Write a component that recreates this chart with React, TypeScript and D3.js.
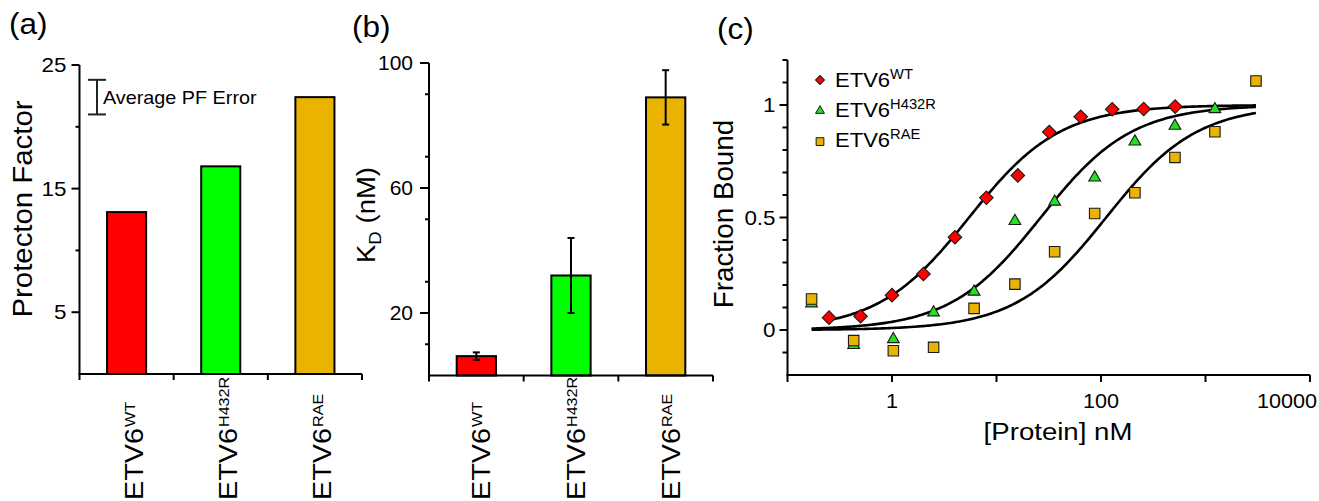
import React from "react";
import * as d3 from "d3";

const W = 1319;
const H = 501;
const FONT = "'Liberation Sans', Arial, Helvetica, sans-serif";

// ---------- Panel (a) ----------
const categories = ["WT", "H432R", "RAE"];
const barColors = ["#FF0000", "#00FF00", "#EAB300"];
const protectionFactor = [13.1, 16.8, 22.4];
const pfTicksMajor = [5, 15, 25];
const pfTicksMinor = [10, 20];
const avgPFErrorCenter = 22.4;
const avgPFError = 1.4;

// ---------- Panel (b) ----------
const kdValues = [6.2, 32, 89];
const kdErrors = [1.2, 12, 8.7];
const kdTicksMajor = [20, 60, 100];
const kdTicksMinor = [10, 30, 50, 70, 90];

// ---------- Panel (c) ----------
const concWT = [0.25, 0.5, 1, 2, 4, 8, 16, 32, 64, 128, 256, 512];
const boundWT = [0.055, 0.061, 0.155, 0.249, 0.412, 0.588, 0.687, 0.88, 0.948, 0.981, 0.982, 0.993];
const concMut = [0.17, 0.43, 1.03, 2.5, 6.1, 15, 36, 87, 211, 510, 1230, 3040];
const boundH432R = [0.118, -0.067, -0.041, 0.078, 0.17, 0.484, 0.57, 0.677, 0.837, 0.907, 0.981];
const boundRAE = [0.138, -0.047, -0.092, -0.077, 0.096, 0.204, 0.348, 0.518, 0.61, 0.767, 0.881, 1.107];
const fitKd = [5.46, 26.5, 112];
const fitStart = [0.25, 0.17, 0.17];
const fitEnd = 3040;
const logTicks = [0.1, 1, 10, 100, 1000, 10000];
const logTickLabels = ["", "1", "", "100", "", "10000"];
const fracTicksMajor = [0, 0.5, 1];
const fracTickLabels = ["0", "0.5", "1"];
const fracTicksMinor = [-0.1, 0.1, 0.2, 0.3, 0.4, 0.6, 0.7, 0.8, 0.9, 1.1, 1.2];
const markerColors = ["#FF0000", "#22E022", "#EAB300"];

type TP = {
  x: number;
  y: number;
  fs: number;
  rot?: number;
  sx?: number;
  anchor?: "start" | "middle" | "end";
  children: React.ReactNode;
};
function T({ x, y, fs, rot = 0, sx = 1, anchor = "start", children }: TP) {
  return (
    <text
      transform={`translate(${x},${y}) rotate(${rot}) scale(${sx},1)`}
      fontSize={fs}
      textAnchor={anchor}
      fontFamily={FONT}
      fill="#000"
    >
      {children}
    </text>
  );
}

function CatLabel({ x, sup }: { x: number; sup: string }) {
  return (
    <T x={x} y={500} fs={25} rot={-90} sx={1.15}>
      ETV6
      <tspan dy={-8} dx={1} fontSize={14}>
        {sup}
      </tspan>
    </T>
  );
}

export default function App() {
  const aX = d3.scaleBand<string>().domain(categories).range([79.5, 362]).padding(0);
  const aY = d3.scaleLinear().domain([0, 25]).range([374, 65]);
  const bX = d3.scaleBand<string>().domain(categories).range([429, 713]).padding(0);
  const bY = d3.scaleLinear().domain([0, 100]).range([375.5, 63]);
  const cX = d3.scaleLog().domain([0.1, 10000]).range([787.5, 1310]);
  const cY = d3.scaleLinear().domain([-0.2, 1.2]).range([375, 60]);

  const aBW = aX.bandwidth() * 0.415;
  const bBW = bX.bandwidth() * 0.415;

  const fitPath = (K: number, x0: number) => {
    const n = 240;
    const l0 = Math.log10(x0);
    const l1 = Math.log10(fitEnd);
    const pts: [number, number][] = d3.range(n + 1).map((i) => {
      const x = Math.pow(10, l0 + ((l1 - l0) * i) / n);
      return [cX(x), cY(x / (K + x))];
    });
    return d3.line()(pts) || "";
  };

  const diamond = d3.symbol(d3.symbolSquare, 92)() || "";
  const triangle = d3.symbol(d3.symbolTriangle, 60)() || "";
  const square = d3.symbol(d3.symbolSquare, 110)() || "";
  const lDiamond = d3.symbol(d3.symbolSquare, 40)() || "";
  const lTriangle = d3.symbol(d3.symbolTriangle, 34)() || "";
  const lSquare = d3.symbol(d3.symbolSquare, 60)() || "";

  const sw = 2;
  const mk = "#1a1a1a";

  const bars = (
    xs: d3.ScaleBand<string>,
    ys: d3.ScaleLinear<number, number>,
    vals: number[],
    bw: number
  ) =>
    categories.map((c, i) => (
      <rect
        key={c}
        x={(xs(c) as number) + xs.bandwidth() / 2 - bw / 2}
        y={ys(vals[i])}
        width={bw}
        height={ys(0) - ys(vals[i])}
        fill={barColors[i]}
        stroke="#000"
        strokeWidth={sw}
      />
    ));

  const legendItems = [
    { sym: lDiamond, rot: 45, sup: "WT" },
    { sym: lTriangle, rot: 0, sup: "H432R" },
    { sym: lSquare, rot: 0, sup: "RAE" },
  ];

  const aX0 = aX.range()[0];
  const bX0 = bX.range()[0];
  const cX0 = cX.range()[0];

  return (
    <svg
      width={W}
      height={H}
      style={{ position: "absolute", left: 0, top: 0, display: "block", background: "#fff" }}
    >
      <rect x={0} y={0} width={W} height={H} fill="#fff" />

      {/* ================= Panel (a) ================= */}
      <T x={9} y={34} fs={30} sx={1.05}>(a)</T>
      {bars(aX, aY, protectionFactor, aBW)}
      <line x1={aX0} x2={aX0} y1={aY(25)} y2={aY(0)} stroke="#000" strokeWidth={sw} />
      <line x1={aX0 - 1} x2={aX.range()[1]} y1={aY(0)} y2={aY(0)} stroke="#000" strokeWidth={sw} />
      {pfTicksMajor.map((t) => (
        <g key={t}>
          <line x1={aX0 - 8} x2={aX0} y1={aY(t)} y2={aY(t)} stroke="#000" strokeWidth={sw} />
          <T x={aX0 - 13} y={aY(t) + 7} fs={20} sx={1.12} anchor="end">
            {String(t)}
          </T>
        </g>
      ))}
      {pfTicksMinor.map((t) => (
        <line key={t} x1={aX0 - 4} x2={aX0} y1={aY(t)} y2={aY(t)} stroke="#000" strokeWidth={sw} />
      ))}
      {[...categories.map((c) => aX(c) as number), aX.range()[1]].map((x, i) => (
        <line key={i} x1={x} x2={x} y1={aY(0)} y2={aY(0) + 6} stroke="#000" strokeWidth={sw} />
      ))}
      <g stroke="#222" strokeWidth={sw}>
        <line x1={aX0 + 17.5} x2={aX0 + 17.5} y1={aY(avgPFErrorCenter + avgPFError)} y2={aY(avgPFErrorCenter - avgPFError)} />
        <line x1={aX0 + 8.5} x2={aX0 + 26.5} y1={aY(avgPFErrorCenter + avgPFError)} y2={aY(avgPFErrorCenter + avgPFError)} />
        <line x1={aX0 + 8.5} x2={aX0 + 26.5} y1={aY(avgPFErrorCenter - avgPFError)} y2={aY(avgPFErrorCenter - avgPFError)} />
      </g>
      <T x={aX0 + 23.5} y={aY(avgPFErrorCenter) + 6.5} fs={18} sx={1.1}>
        Average PF Error
      </T>
      <T x={32} y={209} fs={28} rot={-90} sx={1.05} anchor="middle">
        Protecton Factor
      </T>
      {categories.map((c) => (
        <CatLabel key={c} x={(aX(c) as number) + aX.bandwidth() / 2 + 16} sup={c} />
      ))}

      {/* ================= Panel (b) ================= */}
      <T x={352} y={37} fs={30} sx={1.05}>(b)</T>
      {bars(bX, bY, kdValues, bBW)}
      {categories.map((c, i) => {
        const cx = (bX(c) as number) + bX.bandwidth() / 2;
        const y1 = bY(kdValues[i] + kdErrors[i]);
        const y2 = bY(kdValues[i] - kdErrors[i]);
        return (
          <g key={c} stroke="#000" strokeWidth={sw}>
            <line x1={cx} x2={cx} y1={y1} y2={y2} />
            <line x1={cx - 3.5} x2={cx + 3.5} y1={y1} y2={y1} />
            <line x1={cx - 3.5} x2={cx + 3.5} y1={y2} y2={y2} />
          </g>
        );
      })}
      <line x1={bX0} x2={bX0} y1={bY(100)} y2={bY(0)} stroke="#000" strokeWidth={sw} />
      <line x1={bX0 - 1} x2={bX.range()[1]} y1={bY(0)} y2={bY(0)} stroke="#000" strokeWidth={sw} />
      {kdTicksMajor.map((t) => (
        <g key={t}>
          <line x1={bX0 - 9} x2={bX0} y1={bY(t)} y2={bY(t)} stroke="#000" strokeWidth={sw} />
          <T x={bX0 - 16} y={bY(t) + 7} fs={20} sx={1.05} anchor="end">
            {String(t)}
          </T>
        </g>
      ))}
      {kdTicksMinor.map((t) => (
        <line key={t} x1={bX0 - 4} x2={bX0} y1={bY(t)} y2={bY(t)} stroke="#000" strokeWidth={sw} />
      ))}
      {[...categories.map((c) => bX(c) as number), bX.range()[1]].map((x, i) => (
        <line key={i} x1={x} x2={x} y1={bY(0)} y2={bY(0) + 6} stroke="#000" strokeWidth={sw} />
      ))}
      <T x={375} y={215} fs={25} rot={-90} sx={1.1} anchor="middle">
        K
        <tspan dy={6} fontSize={17}>
          D
        </tspan>
        <tspan dy={-6} fontSize={25}>
          {" (nM)"}
        </tspan>
      </T>
      {categories.map((c) => (
        <CatLabel key={c} x={(bX(c) as number) + bX.bandwidth() / 2 + 14} sup={c} />
      ))}

      {/* ================= Panel (c) ================= */}
      <T x={717} y={39} fs={30} sx={1.05}>(c)</T>
      {fitKd.map((k, i) => (
        <path key={i} d={fitPath(k, fitStart[i])} fill="none" stroke="#000" strokeWidth={2.6} />
      ))}
      {concWT.map((x, i) => (
        <path
          key={"wt" + i}
          d={diamond}
          transform={`translate(${cX(x)},${cY(boundWT[i])}) rotate(45)`}
          fill={markerColors[0]}
          stroke={mk}
          strokeWidth={1.1}
        />
      ))}
      {boundH432R.map((v, i) => (
        <path
          key={"h" + i}
          d={triangle}
          transform={`translate(${cX(concMut[i])},${cY(v)})`}
          fill={markerColors[1]}
          stroke={mk}
          strokeWidth={1.1}
        />
      ))}
      {boundRAE.map((v, i) => (
        <path
          key={"r" + i}
          d={square}
          transform={`translate(${cX(concMut[i])},${cY(v)})`}
          fill={markerColors[2]}
          stroke={mk}
          strokeWidth={1.1}
        />
      ))}
      <line x1={cX0} x2={cX0} y1={cY(1.2)} y2={cY(-0.2)} stroke="#000" strokeWidth={sw} />
      <line x1={cX0 - 1} x2={cX.range()[1]} y1={cY(-0.2)} y2={cY(-0.2)} stroke="#000" strokeWidth={sw} />
      {fracTicksMajor.map((t, i) => (
        <g key={t}>
          <line x1={cX0 - 8} x2={cX0} y1={cY(t)} y2={cY(t)} stroke="#000" strokeWidth={sw} />
          <T x={cX0 - 12} y={cY(t) + 7} fs={20} sx={1.12} anchor="end">
            {fracTickLabels[i]}
          </T>
        </g>
      ))}
      {fracTicksMinor.map((t) => (
        <line key={t} x1={cX0 - 5} x2={cX0} y1={cY(t)} y2={cY(t)} stroke="#000" strokeWidth={sw} />
      ))}
      {logTicks.map((t, i) => (
        <g key={t}>
          <line x1={cX(t)} x2={cX(t)} y1={cY(-0.2)} y2={cY(-0.2) + 7} stroke="#000" strokeWidth={sw} />
          {logTickLabels[i] && (
            <T
              x={i === logTicks.length - 1 ? cX(t) + 7 : cX(t)}
              y={cY(-0.2) + 33}
              fs={20}
              sx={1.08}
              anchor={i === logTicks.length - 1 ? "end" : "middle"}
            >
              {logTickLabels[i]}
            </T>
          )}
        </g>
      ))}
      <T x={733} y={214} fs={27} rot={-90} sx={1.03} anchor="middle">
        Fraction Bound
      </T>
      <T x={1058} y={440} fs={24} sx={1.15} anchor="middle">
        [Protein] nM
      </T>
      {legendItems.map((it, i) => (
        <g key={it.sup}>
          <path
            d={it.sym}
            transform={`translate(820,${80 + i * 30.8}) rotate(${it.rot})`}
            fill={markerColors[i]}
            stroke={mk}
            strokeWidth={1}
          />
          <T x={835} y={87 + i * 30} fs={21} sx={1.05}>
            ETV6
            <tspan dy={-8} fontSize={14}>
              {it.sup}
            </tspan>
          </T>
        </g>
      ))}
    </svg>
  );
}
